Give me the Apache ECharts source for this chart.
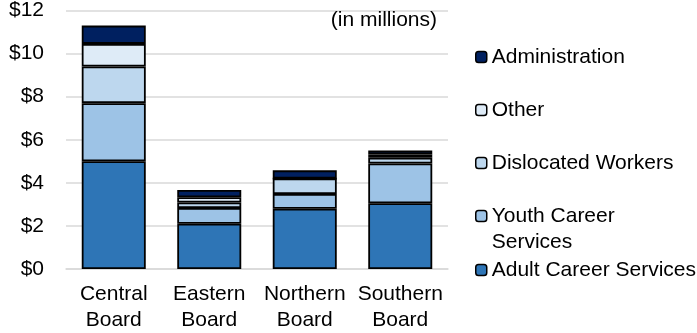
<!DOCTYPE html>
<html>
<head>
<meta charset="utf-8">
<script src="https://cdn.jsdelivr.net/npm/echarts@6/dist/echarts.min.js"></script>
<style>
  html, body { margin: 0; padding: 0; background: #fff; }
  #chart { width: 697px; height: 333px; }
</style>
</head>
<body>
<div id="chart"></div>
<script>
// Workforce board funding by program (in millions)
const categories = ['Central\nBoard', 'Eastern\nBoard', 'Northern\nBoard', 'Southern\nBoard'];
const adultCareer = [5.0, 2.1, 2.8, 3.05];
const youthCareer = [2.7, 0.73, 0.68, 1.85];
const dislocated = [1.7, 0.26, 0.72, 0.27];
const other = [1.05, 0.24, 0, 0.15];
const administration = [0.85, 0.34, 0.38, 0.18];

const seriesDefs = [
  { name: 'Adult Career Services', data: adultCareer, color: '#2e75b6' },
  { name: 'Youth Career Services', data: youthCareer, color: '#9dc3e6' },
  { name: 'Dislocated Workers', data: dislocated, color: '#bdd7ee' },
  { name: 'Other', data: other, color: '#deebf7' },
  { name: 'Administration', data: administration, color: '#002060' }
];

const FONT = 'Liberation Sans, Arial, sans-serif';
const textBase = { color: '#000', fontFamily: FONT, fontSize: 21 };

// one legend block per entry so each row sits at its own height
const legendRows = [
  { name: 'Administration', center: 57 },
  { name: 'Other', center: 110 },
  { name: 'Dislocated Workers', center: 163 },
  { name: 'Youth Career Services', center: 216, twoLine: true },
  { name: 'Adult Career Services', center: 270 }
];

const legends = legendRows.map(r => {
  const lh = 26;
  const lg = {
    data: [r.name],
    left: 475,
    top: r.twoLine ? r.center - lh * 1.5 : r.center - lh / 2,
    orient: 'vertical',
    padding: 0,
    itemWidth: 11,
    itemHeight: 11,
    itemStyle: { borderColor: '#000', borderWidth: 1.5 },
    selectedMode: false,
    textStyle: Object.assign({}, textBase, { lineHeight: lh })
  };
  if (r.twoLine) {
    // blank first line keeps the swatch beside "Youth Career"
    lg.formatter = () => '\nYouth Career\nServices';
  }
  return lg;
});

const chart = echarts.init(document.getElementById('chart'), null, { renderer: 'canvas' });
chart.setOption({
  animation: false,
  title: {
    text: '(in millions)',
    right: 697 - 437,
    top: 10,
    padding: 0,
    textStyle: Object.assign({}, textBase, { fontWeight: 'normal' })
  },
  legend: legends,
  grid: { left: 66, right: 249, top: 9, bottom: 60, containLabel: false },
  xAxis: {
    type: 'category',
    data: categories,
    axisLine: { show: true, lineStyle: { color: '#d9d9d9', width: 1.5 } },
    axisTick: { show: false },
    axisLabel: Object.assign({}, textBase, { margin: 12, lineHeight: 26, interval: 0 })
  },
  yAxis: {
    type: 'value',
    min: 0,
    max: 12,
    interval: 2,
    axisLine: { show: false },
    axisTick: { show: false },
    splitLine: { lineStyle: { color: '#d9d9d9', width: 1.5 } },
    axisLabel: Object.assign({}, textBase, { margin: 22, formatter: v => '$' + v })
  },
  series: seriesDefs.map(s => ({
    name: s.name,
    type: 'bar',
    stack: 'total',
    barWidth: 64,
    data: s.data,
    itemStyle: { color: s.color, borderColor: '#000', borderWidth: 1.8 }
  }))
});
</script>
</body>
</html>
